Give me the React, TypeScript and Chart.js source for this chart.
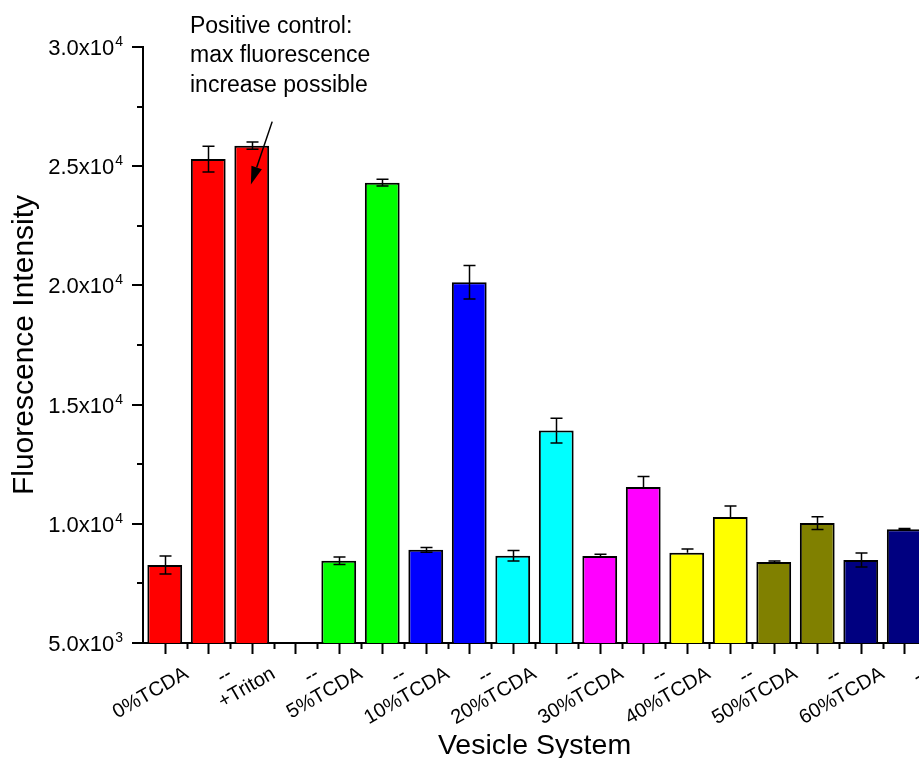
import React, { useEffect, useRef } from 'react';
import { Chart, registerables } from 'chart.js';

Chart.register(...registerables);

const categories = ['0%TCDA', '--', '+Triton', '--', '5%TCDA', '--', '10%TCDA', '--', '20%TCDA', '--', '30%TCDA', '--', '40%TCDA', '--', '50%TCDA', '--', '60%TCDA', '--'];
const values = [8270, 25300, 25860, null, 8450, 24310, 8910, 20130, 8660, 13910, 8650, 11540, 8790, 10290, 8400, 10030, 8480, 9770];
const errPlus = [380, 540, 150, null, 155, 140, 100, 705, 222, 517, 70, 447, 155, 461, 40, 265, 294, 30];
const errMinus = [380, 540, 150, null, 155, 140, 100, 705, 222, 517, 0, 0, 0, 0, 40, 265, 294, 30];
const barColors = ['#FF0000', '#FF0000', '#FF0000', '#FFFFFF', '#00FF00', '#00FF00', '#0000FF', '#0000FF', '#00FFFF', '#00FFFF', '#FF00FF', '#FF00FF', '#FFFF00', '#FFFF00', '#808000', '#808000', '#000080', '#000080'];
const yMin = 5000;
const yMax = 30000;
const yMajorStep = 5000;
const yMinorStep = 2500;
const annotationLines = ['Positive control:', 'max fluorescence', 'increase possible'];
const annotationTextAt = [0.58, 30600];
const arrowFrom = [2.47, 26870];
const arrowTo = [1.98, 24230];

const FONT = "Arial, 'Liberation Sans', sans-serif";

const axisTicksPlugin = {
  id: 'axisTicks',
  afterDraw(chart: any) {
    const { ctx, chartArea } = chart;
    const x = chart.scales.x;
    const y = chart.scales.y;
    ctx.save();
    ctx.strokeStyle = '#000';
    ctx.lineWidth = 2;
    ctx.beginPath();
    for (let v = yMin; v <= yMax; v += yMinorStep) {
      const py = Math.round(y.getPixelForValue(v));
      const len = v % yMajorStep === 0 ? 11 : 6;
      ctx.moveTo(chartArea.left, py);
      ctx.lineTo(chartArea.left - len, py);
    }
    for (let i = 0; i < categories.length; i++) {
      const pc = Math.round(x.getPixelForValue(i)) + 0.5;
      ctx.moveTo(pc, chartArea.bottom);
      ctx.lineTo(pc, chartArea.bottom + 11);
      const pb = Math.round(x.getPixelForValue(i + 0.5)) + 0.5;
      ctx.moveTo(pb, chartArea.bottom);
      ctx.lineTo(pb, chartArea.bottom + 6);
    }
    ctx.stroke();

    // y tick labels with real superscript exponent
    ctx.fillStyle = '#000';
    ctx.textBaseline = 'alphabetic';
    for (let v = yMin; v <= yMax; v += yMajorStep) {
      const e = Math.floor(Math.log10(v));
      const m = (v / Math.pow(10, e)).toFixed(1);
      const py = y.getPixelForValue(v);
      const right = chartArea.left - 20;
      ctx.font = `14px ${FONT}`;
      ctx.textAlign = 'right';
      const expStr = String(e);
      const ew = ctx.measureText(expStr).width;
      ctx.fillText(expStr, right, py - 1);
      ctx.font = `22px ${FONT}`;
      ctx.fillText(m + 'x10', right - ew - 1, py + 8);
    }
    ctx.restore();
  },
};

const errorBarsPlugin = {
  id: 'errorBars',
  afterDatasetsDraw(chart: any) {
    const { ctx } = chart;
    const y = chart.scales.y;
    const meta = chart.getDatasetMeta(0);
    ctx.save();
    ctx.strokeStyle = '#000';
    ctx.lineWidth = 1.5;
    meta.data.forEach((bar: any, i: number) => {
      const v = values[i];
      if (v == null) return;
      const p = errPlus[i] || 0;
      const m = errMinus[i] || 0;
      const cx = Math.round(bar.x) + 0.5;
      const top = y.getPixelForValue(v + p);
      const bot = y.getPixelForValue(v - m);
      ctx.beginPath();
      ctx.moveTo(cx, top);
      ctx.lineTo(cx, bot);
      ctx.moveTo(cx - 6, top);
      ctx.lineTo(cx + 6, top);
      if (m > 0) {
        ctx.moveTo(cx - 6, bot);
        ctx.lineTo(cx + 6, bot);
      }
      ctx.stroke();
    });
    ctx.restore();
  },
};

const annotationPlugin = {
  id: 'annotation',
  afterDraw(chart: any) {
    const { ctx } = chart;
    const x = chart.scales.x;
    const y = chart.scales.y;
    ctx.save();
    ctx.fillStyle = '#000';
    ctx.font = `23px ${FONT}`;
    ctx.textAlign = 'left';
    ctx.textBaseline = 'alphabetic';
    const tx = x.getPixelForValue(annotationTextAt[0]);
    const ty = y.getPixelForValue(annotationTextAt[1]);
    annotationLines.forEach((line, i) => {
      ctx.fillText(line, tx, ty + i * 29.5);
    });
    const x1 = x.getPixelForValue(arrowFrom[0]);
    const y1 = y.getPixelForValue(arrowFrom[1]);
    const x2 = x.getPixelForValue(arrowTo[0]);
    const y2 = y.getPixelForValue(arrowTo[1]);
    const ang = Math.atan2(y2 - y1, x2 - x1);
    const headLen = 18;
    const headW = 5.5;
    const bx = x2 - headLen * Math.cos(ang);
    const by = y2 - headLen * Math.sin(ang);
    ctx.strokeStyle = '#000';
    ctx.lineWidth = 1.5;
    ctx.beginPath();
    ctx.moveTo(x1, y1);
    ctx.lineTo(bx, by);
    ctx.stroke();
    ctx.beginPath();
    ctx.moveTo(x2, y2);
    ctx.lineTo(bx + headW * Math.sin(ang), by - headW * Math.cos(ang));
    ctx.lineTo(bx - headW * Math.sin(ang), by + headW * Math.cos(ang));
    ctx.closePath();
    ctx.fill();
    ctx.restore();
  },
};

export default function App() {
  const canvasRef = useRef<HTMLCanvasElement | null>(null);

  useEffect(() => {
    if (!canvasRef.current) return;
    const chart = new Chart(canvasRef.current, {
      type: 'bar',
      data: {
        labels: categories,
        datasets: [
          {
            data: values as any,
            backgroundColor: barColors,
            borderColor: '#000',
            borderWidth: 2,
            barPercentage: 0.8,
            categoryPercentage: 1,
          },
        ],
      },
      options: {
        responsive: false,
        animation: false,
        devicePixelRatio: 1,
        layout: { padding: { top: 47, right: 14, left: 0, bottom: 0 } },
        plugins: {
          legend: { display: false },
          tooltip: { enabled: false },
        },
        scales: {
          x: {
            offset: true,
            grid: { display: false, drawTicks: false },
            border: { display: true, color: '#000', width: 2 },
            ticks: {
              autoSkip: false,
              maxRotation: 30,
              minRotation: 30,
              labelOffset: 22,
              padding: 19,
              color: '#000',
              font: { family: FONT, size: 20 },
            },
            title: {
              display: true,
              text: 'Vesicle System',
              color: '#000',
              font: { family: FONT, size: 28.5 },
              padding: { top: 0, bottom: -5 },
            },
            afterFit(scale: any) {
              scale.height = 115;
            },
          },
          y: {
            min: yMin,
            max: yMax,
            grid: { display: false, drawTicks: false },
            border: { display: true, color: '#000', width: 2 },
            ticks: {
              stepSize: yMajorStep,
              display: false,
            },
            title: {
              display: true,
              text: 'Fluorescence Intensity',
              color: '#000',
              font: { family: FONT, size: 30 },
              padding: { top: 7, bottom: 0 },
            },
            afterFit(scale: any) {
              scale.width = 143;
            },
          },
        },
      },
      plugins: [axisTicksPlugin, errorBarsPlugin, annotationPlugin],
    });
    return () => chart.destroy();
  }, []);

  return (
    <div style={{ position: 'fixed', left: 0, top: 0, width: 919, height: 758, overflow: 'hidden', background: '#fff' }}>
      <canvas ref={canvasRef} width={940} height={758} style={{ display: 'block', width: 940, height: 758 }} />
    </div>
  );
}
